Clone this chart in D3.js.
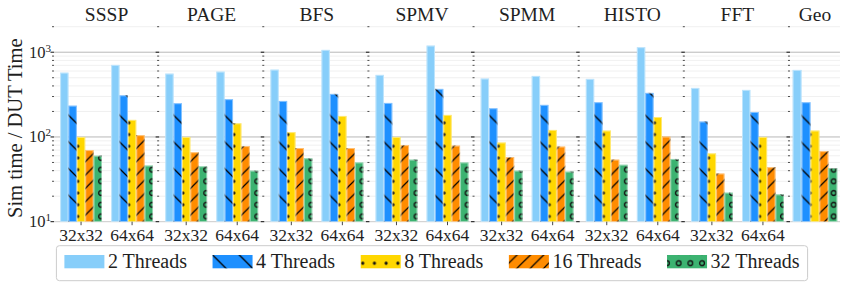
<!DOCTYPE html>
<html>
<head>
<meta charset="utf-8">
<script src="https://cdn.jsdelivr.net/npm/d3@7"></script>
<style>
body { margin: 0; background: #fff; }
</style>
</head>
<body>
<svg id="chart" width="847" height="288"></svg>
<script>
// benchmarks (one panel each) and the array sizes inside them
var benchmarks = ['SSSP', 'PAGE', 'BFS', 'SPMV', 'SPMM', 'HISTO', 'FFT', 'Geo'];
var sizes = ['32x32', '64x64'];
var threads = ['2 Threads', '4 Threads', '8 Threads', '16 Threads', '32 Threads'];

// values per thread count, in order SSSP 32, SSSP 64, PAGE 32, ... FFT 64, Geo
var t2  = [574, 708, 559, 590, 623, 1065, 540, 1197, 489, 525, 484, 1146, 379, 359, 618];
var t4  = [234, 310, 250, 279, 266, 322, 252, 369, 218, 239, 257, 331, 152, 197, 257];
var t8  = [100, 159, 100, 145, 114, 177, 100, 182, 86, 121, 119, 172, 64, 100, 119];
var t16 = [70, 105, 66, 78, 74, 74, 80, 79, 58, 77, 54, 101, 37, 44, 68];
var t32 = [60, 46, 45, 40, 56, 50, 54, 50, 40, 39, 47, 55, 22, 21, 43];
var series = [t2, t4, t8, t16, t32];

var colors = ['#87cefa', '#1e90ff', '#ffd700', '#ff8c00', '#3cb371'];
var hatches = ['none', 'url(#hBack)', 'url(#hDots)', 'url(#hFwd)', 'url(#hRings)'];

var svg = d3.select('#chart')
    .attr('font-family', "'Liberation Serif', 'Times New Roman', Times, serif");
var plotLeft = 54, plotTop = 26.7, plotBottom = 221.7;
var ink = '#1f1f1f';

// hatch patterns
var defs = svg.append('defs');
var p = defs.append('pattern').attr('id', 'hBack').attr('patternUnits', 'userSpaceOnUse')
    .attr('width', 26.7).attr('height', 26.7);
p.append('path').attr('d', 'M-2,-2L28.7,28.7M-2,24.7L2,28.7M24.7,-2L28.7,2')
    .attr('stroke', '#000').attr('stroke-width', 1.3);
p = defs.append('pattern').attr('id', 'hFwd').attr('patternUnits', 'userSpaceOnUse')
    .attr('width', 13.35).attr('height', 13.35);
p.append('path').attr('d', 'M-2,15.35L15.35,-2M-2,2L2,-2M11.35,15.35L15.35,11.35')
    .attr('stroke', '#000').attr('stroke-width', 1.2);
p = defs.append('pattern').attr('id', 'hDots').attr('patternUnits', 'userSpaceOnUse')
    .attr('width', 11.7).attr('height', 11.7);
p.append('circle').attr('cx', 5.85).attr('cy', 5.85).attr('r', 1.6).attr('fill', '#111');
p = defs.append('pattern').attr('id', 'hRings').attr('patternUnits', 'userSpaceOnUse')
    .attr('width', 11.7).attr('height', 11.7);
p.append('circle').attr('cx', 5.85).attr('cy', 5.85).attr('r', 2.4)
    .attr('fill', 'none').attr('stroke', '#111').attr('stroke-width', 1.3);

var y = d3.scaleLog().domain([10, 2000]).range([plotBottom, plotTop]);
var majors = [10, 100, 1000];
var minors = [20, 30, 40, 50, 60, 70, 80, 90, 200, 300, 400, 500, 600, 700, 800, 900, 2000];

var panelW = 105.14;
var idx = 0;
benchmarks.forEach(function (b, i) {
    var isGeo = b === 'Geo';
    var w = isGeo ? 50 : panelW;
    var keys = isGeo ? ['Geo'] : sizes;
    var g = svg.append('g').attr('transform', 'translate(' + (plotLeft + i * panelW) + ',0)');

    // grid
    g.selectAll('.minor').data(minors).enter().append('line')
        .attr('x1', 0).attr('x2', w).attr('y1', y).attr('y2', y)
        .attr('stroke', '#ececec').attr('stroke-width', 0.8);
    g.selectAll('.major').data(majors).enter().append('line')
        .attr('x1', 0).attr('x2', w).attr('y1', y).attr('y2', y)
        .attr('stroke', function (d) { return d === 10 ? '#c4c4c4' : '#b0b0b0'; })
        .attr('stroke-width', 0.9);

    // y ticks on each panel
    g.selectAll('.mt').data(minors).enter().append('line')
        .attr('x1', -2).attr('x2', 0).attr('y1', y).attr('y2', y)
        .attr('stroke', '#222').attr('stroke-width', 0.8);
    g.selectAll('.Mt').data(majors).enter().append('line')
        .attr('x1', -3.5).attr('x2', 0).attr('y1', y).attr('y2', y)
        .attr('stroke', '#111').attr('stroke-width', 1);

    var x0 = d3.scaleBand().domain(keys).range([0, w]);
    if (isGeo) x0.paddingInner(0).paddingOuter(0.06);
    else x0.paddingInner(0.18).paddingOuter(0.12);
    var x1 = d3.scaleBand().domain(threads).range([0, x0.bandwidth()]);

    keys.forEach(function (k) {
        var gi = idx++;
        var gg = g.append('g').attr('transform', 'translate(' + x0(k) + ',0)');
        threads.forEach(function (t, s) {
            var v = series[s][gi];
            gg.append('rect').attr('x', x1(t)).attr('width', x1.bandwidth())
                .attr('y', y(v)).attr('height', plotBottom - y(v))
                .attr('fill', colors[s]);
            if (s > 0) {
                gg.append('rect').attr('x', x1(t)).attr('width', x1.bandwidth())
                    .attr('y', y(v)).attr('height', plotBottom - y(v))
                    .attr('fill', hatches[s]);
            }
            gg.append('rect').attr('x', x1(t) + 0.5).attr('width', x1.bandwidth() - 1)
                .attr('y', y(v) + 0.5).attr('height', plotBottom - y(v) - 0.5)
                .attr('fill', 'none').attr('stroke', 'rgba(255,255,255,0.45)').attr('stroke-width', 1);
        });
        if (!isGeo) {
            var cx = x0(k) + x0.bandwidth() / 2;
            g.append('line').attr('x1', cx).attr('x2', cx).attr('y1', plotBottom).attr('y2', plotBottom + 3.5)
                .attr('stroke', '#333').attr('stroke-width', 0.9);
            g.append('text').attr('x', cx).attr('y', 241).attr('text-anchor', 'middle')
                .attr('fill', ink).style('font-size', '17.5px').text(k);
        }
    });

    g.append('text').attr('x', w / 2).attr('y', 20.7).attr('text-anchor', 'middle')
        .attr('fill', ink).style('font-size', '19.5px').text(b);

    if (i === 0) {
        majors.forEach(function (m) {
            var t = g.append('text').attr('x', -3).attr('y', y(m) + 5.5)
                .attr('text-anchor', 'end').attr('fill', ink).style('font-size', '16.5px');
            t.append('tspan').text('10');
            t.append('tspan').attr('dy', -6).style('font-size', '11px').text(Math.round(Math.log10(m)));
        });
    }
});

// y label
svg.append('text').attr('transform', 'translate(22,' + ((plotTop + plotBottom) / 2 + 4) + ') rotate(-90)')
    .attr('text-anchor', 'middle').attr('fill', ink).style('font-size', '20.5px').text('Sim time / DUT Time');

// legend
var lg = svg.append('g');
var box = lg.append('rect').attr('y', 245.7).attr('height', 35).attr('rx', 3)
    .attr('fill', '#fff').attr('stroke', '#cccccc').attr('stroke-width', 1);
var lx = 0;
threads.forEach(function (t, s) {
    lg.append('rect').attr('x', lx).attr('y', 255).attr('width', 40).attr('height', 13.3)
        .attr('fill', colors[s]);
    if (s > 0) lg.append('rect').attr('x', lx).attr('y', 255).attr('width', 40).attr('height', 13.3)
        .attr('fill', hatches[s]);
    var tx = lg.append('text').attr('x', lx + 43.5).attr('y', 268.3)
        .attr('fill', ink).style('font-size', '20px').text(t);
    lx = lx + 43.5 + tx.node().getComputedTextLength() + 25.6;
});
var inner = lx - 25.6;
var boxW = inner + 16;
var bx = 432 - boxW / 2;
box.attr('x', -8).attr('width', boxW);
lg.attr('transform', 'translate(' + (bx + 8) + ',0)');
</script>
</body>
</html>
